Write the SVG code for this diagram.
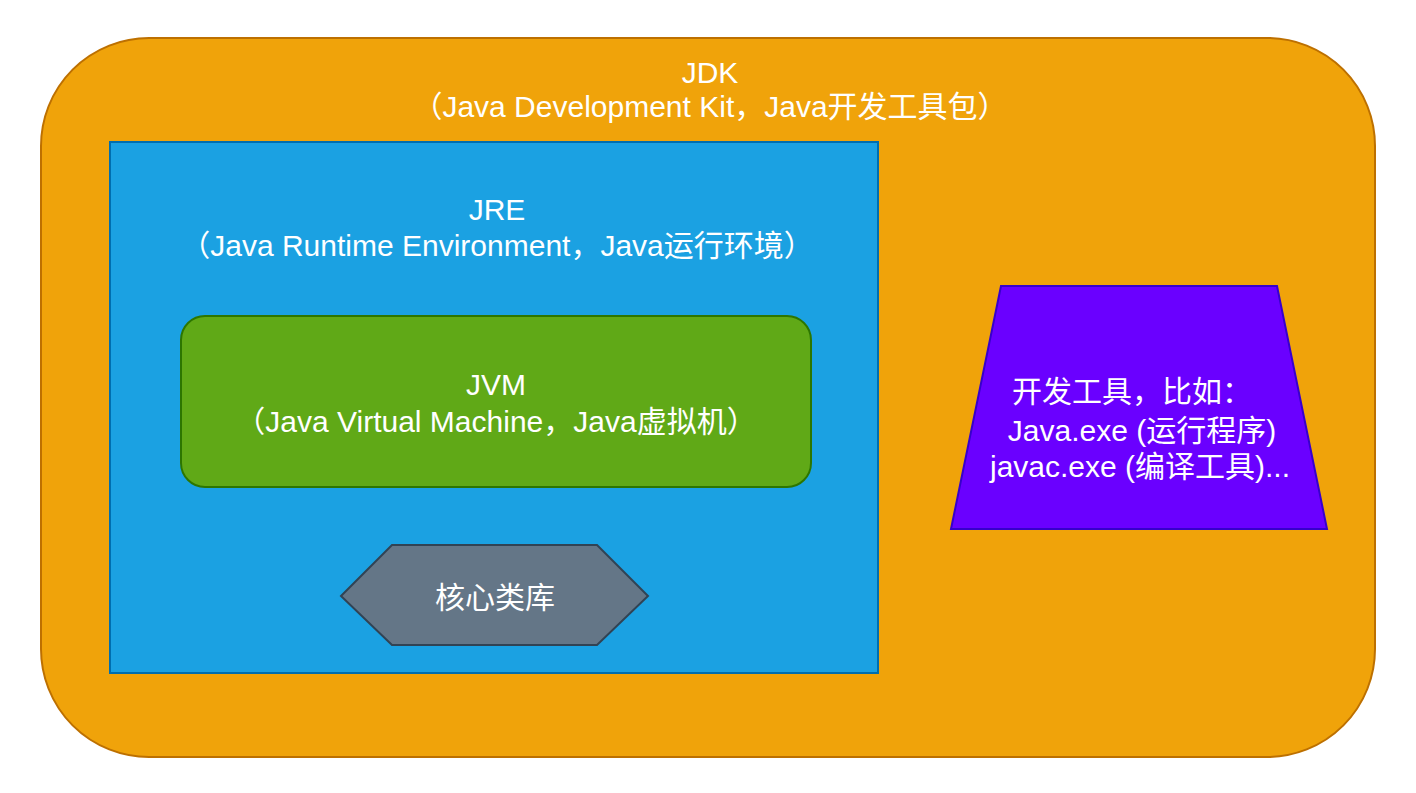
<svg xmlns="http://www.w3.org/2000/svg" width="1416" height="793" viewBox="0 0 1416 793">
<style>
text{font-family:"Liberation Sans","Noto Sans CJK SC",sans-serif;font-size:30px;fill:#ffffff;text-anchor:middle;dominant-baseline:central}
</style>
<rect width="1416" height="793" fill="#ffffff"/>
<g id="jdk">
<rect x="41" y="38" width="1334" height="719" rx="108" ry="108" fill="#f0a30a" stroke="#bd7000" stroke-width="2"/>
<text x="710" y="72">JDK</text>
<text x="710" y="106">（Java Development Kit，Java开发工具包）</text>
</g>
<g id="jre">
<rect x="110" y="142" width="768" height="531" fill="#1ba1e2" stroke="#006eaf" stroke-width="2"/>
<text x="497" y="209">JRE</text>
<text x="497" y="245">（Java Runtime Environment，Java运行环境）</text>
</g>
<g id="jvm">
<rect x="181" y="316" width="630" height="171" rx="24" ry="24" fill="#60a917" stroke="#2d7600" stroke-width="2"/>
<text x="496" y="384">JVM</text>
<text x="496" y="421">（Java Virtual Machine，Java虚拟机）</text>
</g>
<g id="core">
<polygon points="341,596 392,545 597,545 648,596 597,645 392,645" fill="#647687" stroke="#314354" stroke-width="2"/>
<text x="495" y="597">核心类库</text>
</g>
<g id="tools">
<polygon points="1001,286 1277,286 1327,529 951,529" fill="#6a00ff" stroke="#3700cc" stroke-width="2"/>
<text x="1132" y="391">开发工具，比如：</text>
<text x="1142" y="430">Java.exe (运行程序)</text>
<text x="1140" y="466">javac.exe (编译工具)...</text>
</g>
<g id="connectors"></g>
</svg>
